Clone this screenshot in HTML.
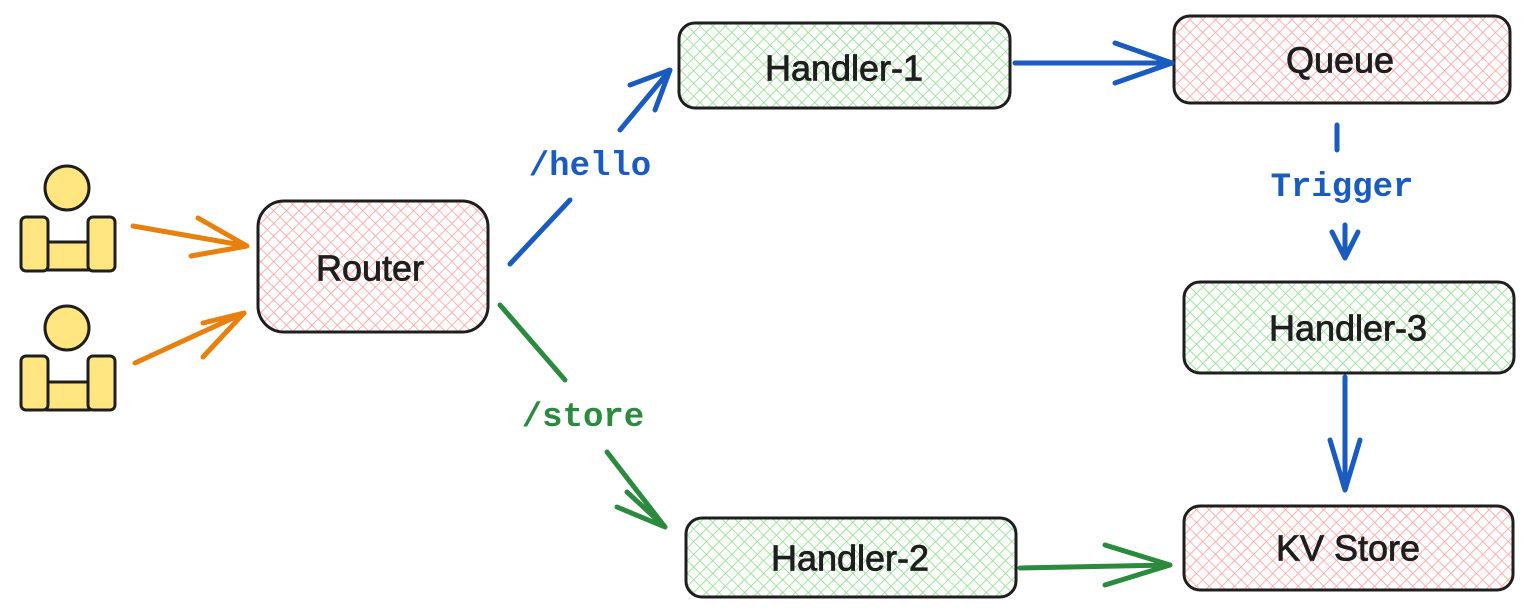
<!DOCTYPE html>
<html><head><style>
html,body{margin:0;padding:0;background:#fff;}
svg{display:block}
.t{font-family:"Liberation Sans",sans-serif;font-size:36px;fill:#1e1e1e;stroke:#1e1e1e;stroke-width:0.8;text-anchor:middle;dominant-baseline:central}
.m{font-family:"Liberation Mono",monospace;font-weight:bold;font-size:34px;text-anchor:middle;dominant-baseline:central}
</style></head><body>
<svg width="1526" height="610" viewBox="0 0 1526 610">
<defs>
<pattern id="pr" width="9" height="9" patternUnits="userSpaceOnUse" patternTransform="rotate(45)">
<path d="M0 0H9M0 0V9" stroke="#ffa8a8" stroke-width="1.8"/></pattern>
<pattern id="pg" width="9" height="9" patternUnits="userSpaceOnUse" patternTransform="rotate(45)">
<path d="M0 0H9M0 0V9" stroke="#96e096" stroke-width="1.8"/></pattern>
</defs>
<g stroke="#1e1e1e" stroke-width="3">
<rect x="258" y="201" width="230" height="131" rx="26" fill="url(#pr)"/>
<rect x="679" y="23" width="331" height="85" rx="16" fill="url(#pg)"/>
<rect x="1174" y="16" width="336" height="87" rx="16" fill="url(#pr)"/>
<rect x="1184" y="282" width="330" height="91" rx="16" fill="url(#pg)"/>
<rect x="1184" y="506" width="329" height="84" rx="16" fill="url(#pr)"/>
<rect x="686" y="518" width="330" height="79" rx="16" fill="url(#pg)"/>
</g>
<text class="t" x="370" y="268">Router</text>
<text class="t" x="844" y="68">Handler-1</text>
<text class="t" x="1340" y="60">Queue</text>
<text class="t" x="1348" y="328">Handler-3</text>
<text class="t" x="1348" y="548">KV Store</text>
<text class="t" x="850" y="558">Handler-2</text>
<g fill="#ffe680" stroke="#1e1e1e" stroke-width="3">
<circle cx="67" cy="188" r="22"/>
<rect x="47" y="242" width="42" height="28"/>
<rect x="21" y="217" width="27" height="54" rx="5"/>
<rect x="88" y="217" width="27" height="54" rx="5"/>
<circle cx="67" cy="328" r="22"/>
<rect x="47" y="382" width="42" height="28"/>
<rect x="21" y="356" width="27" height="54" rx="5"/>
<rect x="88" y="356" width="27" height="54" rx="5"/>
</g>
<g fill="none" stroke-width="5" stroke-linecap="round" stroke-linejoin="round">
<g stroke="#e8800e">
<path d="M133 226L247 246M198 218L247 246L191 256"/>
<path d="M135 363L244 313M203 323L244 313L203 357"/>
</g>
<g stroke="#1a5bbf">
<path d="M510 264L570 200M620 130L670 70M630 85L670 70L655 110"/>
<path d="M1015 63L1172 63M1115 43L1172 63L1115 83"/>
<path d="M1337 125L1337 150M1345 225L1345 258M1332 232L1345 258L1358 232"/>
<path d="M1345 377L1345 490M1330 440L1345 490L1360 440"/>
</g>
<g stroke="#2b8a3e">
<path d="M500 305L565 380M607 452L665 527M627 492L665 527L617 507"/>
<path d="M1020 568L1170 565M1105 545L1170 565L1105 585"/>
</g>
</g>
<text class="m" x="590" y="167" fill="#1a5bbf">/hello</text>
<text class="m" x="583" y="418" fill="#2b8a3e">/store</text>
<text class="m" x="1342" y="188" fill="#1a5bbf">Trigger</text>
</svg>
</body></html>
